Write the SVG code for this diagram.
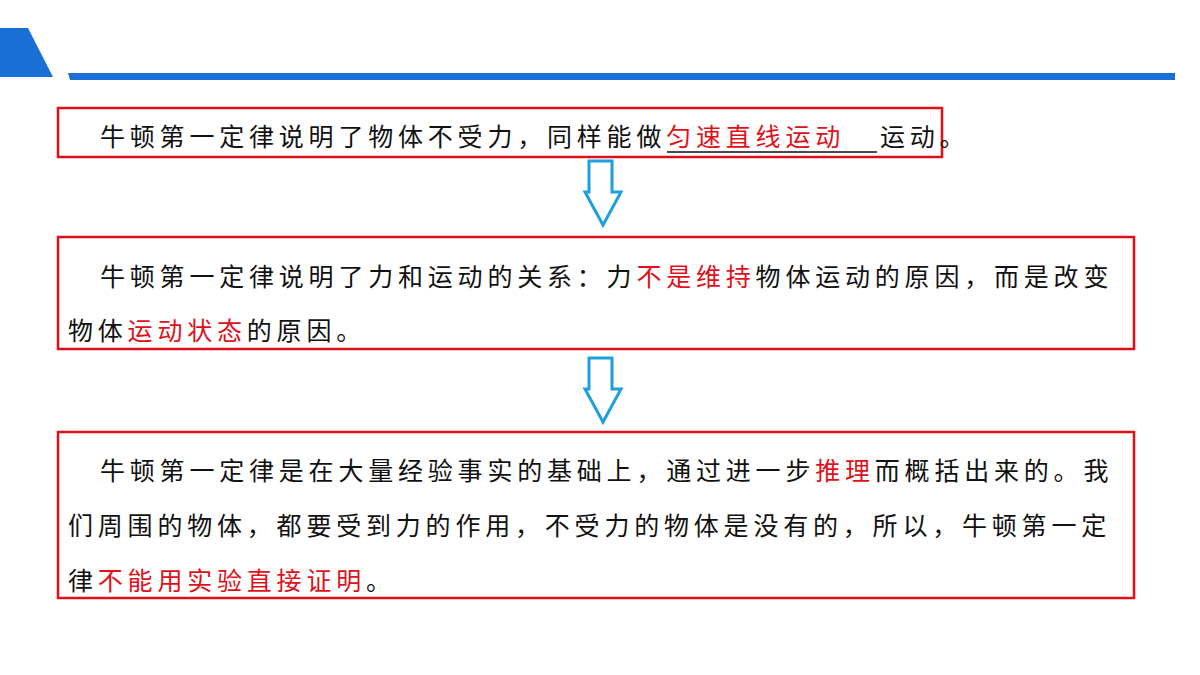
<svg xmlns="http://www.w3.org/2000/svg" width="1200" height="675" viewBox="0 0 1200 675">
<style>
text{font-family:"Noto Sans CJK SC","Noto Sans",sans-serif;font-size:25px;fill:#111;letter-spacing:4.8px}
.r{fill:#e0101a}
.box{fill:none;stroke:#e0101a;stroke-width:2.5}
.arr{fill:#fff;stroke:#1ea0dc;stroke-width:3}
</style>
<rect width="1200" height="675" fill="#fff"/>
<g id="header">
<polygon points="0,28 28,28 53,77 0,77" fill="#1a6fd6"/>
<polygon points="68,73 1175,73 1175,80 70,80" fill="#1a6fd6"/>
</g>
<g id="node1">
<rect class="box" x="58" y="108" width="884" height="49"/>
<text x="100" y="146">牛顿第一定律说明了物体不受力，同样能做<tspan class="r">匀速直线运动</tspan></text>
<text x="880" y="146">运动。</text>
<line x1="667" y1="152" x2="877" y2="152" stroke="#111" stroke-width="1.5"/>
</g>
<g id="node2">
<rect class="box" x="58" y="237" width="1076" height="112"/>
<text x="100" y="286">牛顿第一定律说明了力和运动的关系：力<tspan class="r">不是维持</tspan>物体运动的原因，而是改变</text>
<text x="68" y="340">物体<tspan class="r">运动状态</tspan>的原因。</text>
</g>
<g id="node3">
<rect class="box" x="58" y="432" width="1076" height="166"/>
<text x="100" y="480">牛顿第一定律是在大量经验事实的基础上，通过进一步<tspan class="r">推理</tspan>而概括出来的。我</text>
<text x="68" y="535">们周围的物体，都要受到力的作用，不受力的物体是没有的，所以，牛顿第一定</text>
<text x="68" y="590">律<tspan class="r">不能用实验直接证明</tspan>。</text>
</g>
<g id="connectors">
<polygon class="arr" points="589,161 612,161 612,192 621,192 603,225 585,192 589,192"/>
<polygon class="arr" points="589,358 612,358 612,389 621,389 603,422 585,389 589,389"/>
</g>
</svg>
